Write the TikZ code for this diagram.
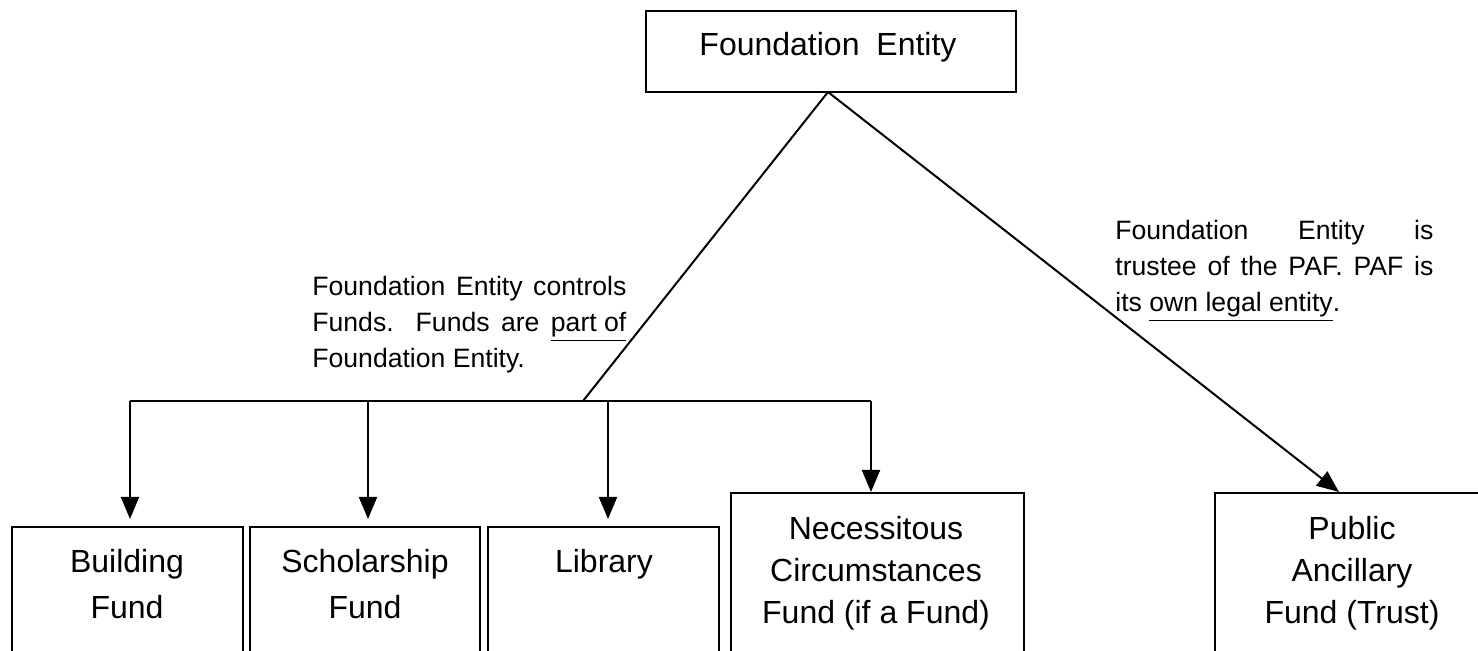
\documentclass[tikz,border=0pt]{standalone}
\usepackage{fontspec}
\setmainfont{Liberation Sans}
\usetikzlibrary{arrows.meta,fit}
\begin{document}
\begin{tikzpicture}[x=0.5pt,y=-0.5pt,
  box/.style={draw, line width=1pt, inner sep=0pt},
  conn/.style={line width=1pt},
  arr/.style={line width=1pt, -{Triangle[length=11pt,width=9pt]}},
  lbl/.style={font=\fontsize{16}{20.5}\selectfont, inner sep=0pt, anchor=base},
  note/.style={font=\fontsize{13.3}{18}\selectfont, inner sep=0pt, anchor=base west}]
\useasboundingbox (0,0) rectangle (1478,651);
\begin{scope}
\clip (0,0) rectangle (1478,651);
\node[box, fit={(646,11) (1016,92)}] (fe) {};
\node[box, fit={(12,527) (243,760)}] (b1) {};
\node[box, fit={(250,527) (480,760)}] (b2) {};
\node[box, fit={(488,527) (719,760)}] (b3) {};
\node[box, fit={(731,493) (1024,760)}] (b4) {};
\node[box, fit={(1215,493) (1490,760)}] (b5) {};
\end{scope}
% texts
\node[lbl] (tfe) at (828,56) {Foundation\hspace{4pt} Entity};
\node[lbl] (t1a) at (127,573) {Building};
\node[lbl] (t1b) at (127,619) {Fund};
\node[lbl] (t2a) at (365,573) {Scholarship};
\node[lbl] (t2b) at (365,619) {Fund};
\node[lbl] (t3a) at (604,573) {Library};
\node[lbl] (t4a) at (876,540) {Necessitous};
\node[lbl] (t4b) at (876,582) {Circumstances};
\node[lbl] (t4c) at (876,624) {Fund (if a Fund)};
\node[lbl] (t5a) at (1352,540) {Public};
\node[lbl] (t5b) at (1352,582) {Ancillary};
\node[lbl] (t5c) at (1352,624) {Fund (Trust)};
% notes
\node[note] (n1) at (312,296) {\parbox[t]{157pt}{%
  \makebox[157pt][s]{Foundation Entity controls}\\
  \makebox[157pt][s]{Funds. Funds are \underline{part of}}\\
  Foundation Entity.}};
\node[note] (n2) at (1115,240) {\parbox[t]{159pt}{%
  \makebox[159pt][s]{Foundation Entity is}\\
  \makebox[159pt][s]{trustee of the PAF. PAF is}\\
  its \underline{own legal entity}.}};
% connectors
\coordinate (apex) at (828,92);
\coordinate (j) at (583,401);
\coordinate (hl) at (130,401);
\coordinate (hs) at (368,401);
\coordinate (hb) at (608,401);
\coordinate (hr) at (871,401);
\draw[conn] (apex) -- (j);
\draw[conn] (hl) -- (hr);
\draw[arr, shorten >=3.5pt] (hl) -- (hl |- b1.north);
\draw[arr, shorten >=3.5pt] (hs) -- (hs |- b2.north);
\draw[arr, shorten >=3.5pt] (hb) -- (hb |- b3.north);
\draw[arr] (hr) -- (hr |- b4.north);
\draw[arr] (apex) -- ([xshift=-6.75pt]b5.north);
\end{tikzpicture}
\end{document}
